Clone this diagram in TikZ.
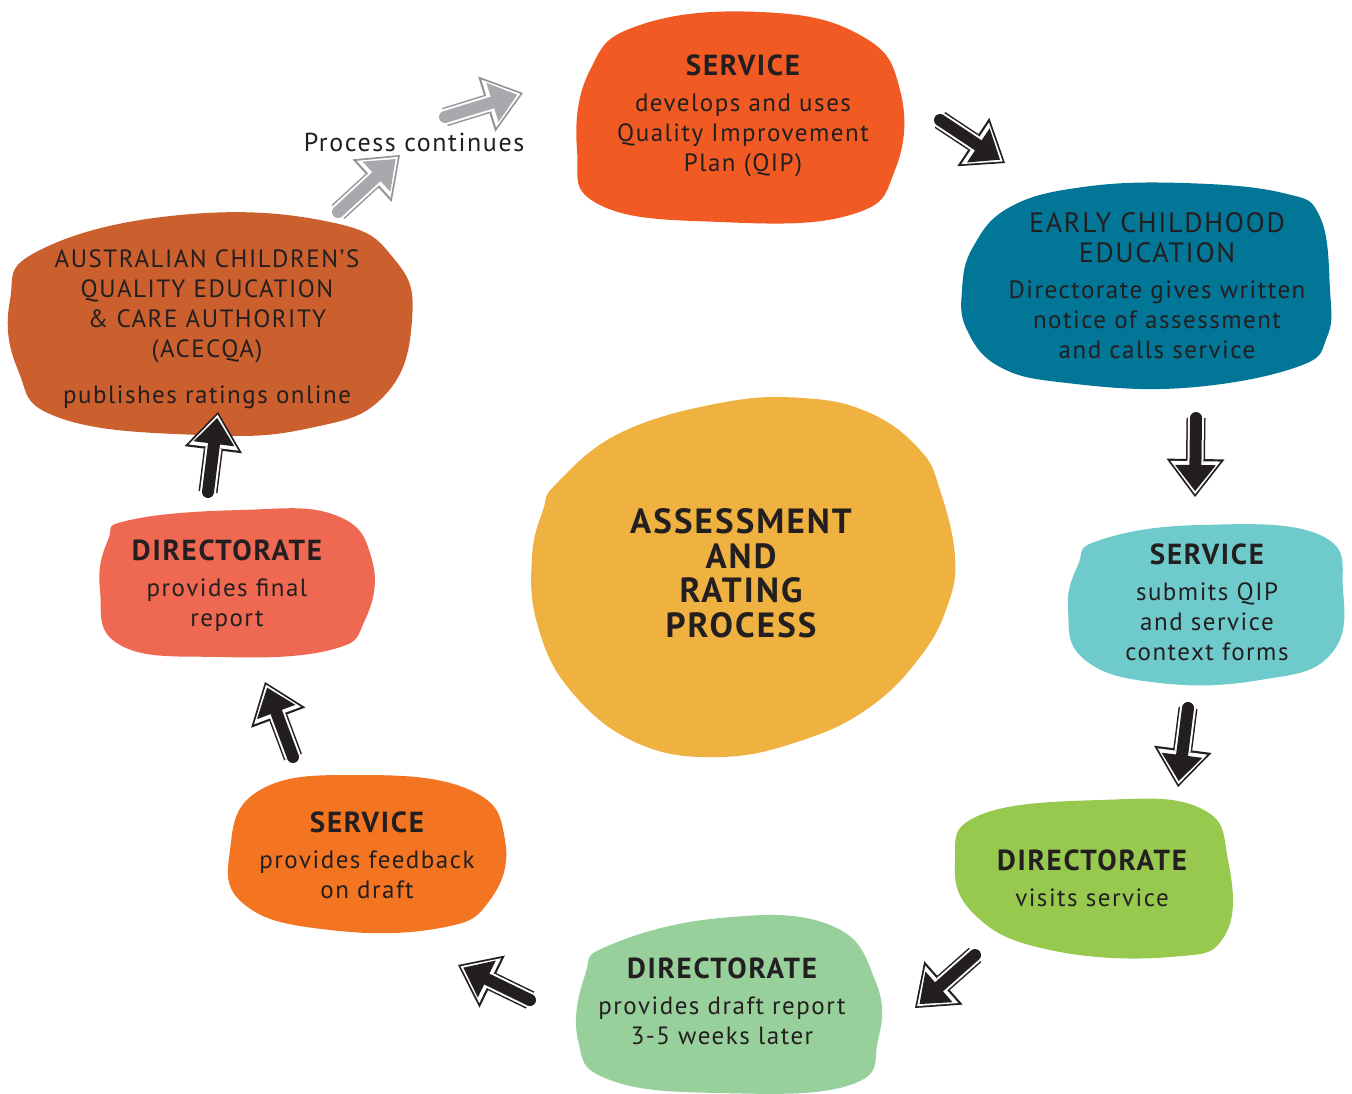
\documentclass[tikz,border=0pt]{standalone}
\usepackage{fontspec}
\setmainfont{PT Sans}[LetterSpace=6]
\usetikzlibrary{arrows.meta}

\definecolor{ink}{HTML}{231F20}
\definecolor{svcred}{HTML}{F15A22}
\definecolor{ecteal}{HTML}{027697}
\definecolor{subteal}{HTML}{6FCBCB}
\definecolor{visgreen}{HTML}{97C94F}
\definecolor{drfgreen}{HTML}{98D09C}
\definecolor{fbkorange}{HTML}{F37521}
\definecolor{finsalmon}{HTML}{EF6852}
\definecolor{acqrust}{HTML}{CB5F2D}
\definecolor{arpyellow}{HTML}{EFB240}
\definecolor{contgrey}{HTML}{A7A9AC}
\definecolor{contedge}{HTML}{939598}

\newcommand{\hdr}{\fontsize{14.5}{15}\selectfont\bfseries}
\newcommand{\ecehdr}{\fontsize{14}{16}\selectfont}

\tikzset{
  txt/.style={align=center, text=ink, font=\fontsize{12.5}{15}\selectfont},
  % fat outlined arrow: edge colour, white band, then the core
  fatarrow/.style n args={2}{line cap=round,
    preaction={draw=#2, line width=9.5pt, shorten >=0pt,
      -{Triangle[length=19pt,width=29pt,line width'=0pt]}},
    preaction={draw=white, line width=8pt, shorten >=1.4pt,
      -{Triangle[length=16.5pt,width=25pt,line width'=0pt]}},
    draw=#1, line width=6pt, shorten >=3pt,
    -{Triangle[length=13pt,width=20.5pt,line width'=0pt]}},
  flow/.style={fatarrow={ink}{ink}},
  cont/.style={fatarrow={contgrey}{contedge}},
}

\begin{document}
\begin{tikzpicture}[x=0.5pt, y=-0.5pt]
  \useasboundingbox (0,0) rectangle (1352,1093);

  % blobs
  \fill[svcred] plot[smooth cycle, tension=0.75] coordinates {(640,25) (760,12)
    (860,35) (900,90) (895,170) (850,215) (720,222) (600,205) (577,150) (590,70)};
  \fill[ecteal] plot[smooth cycle, tension=0.7] coordinates {(1010,207)
    (1083,187) (1183,183) (1283,193) (1320,217) (1330,290) (1327,337) (1297,367)
    (1183,388) (1067,383) (1000,367) (967,330) (962,290) (973,247)};
  \fill[subteal] plot[smooth cycle, tension=0.75] coordinates {(1100,540)
    (1200,525) (1320,535) (1343,590) (1330,655) (1260,680) (1160,683) (1085,660)
    (1068,610) (1078,565)};
  \fill[visgreen] plot[smooth cycle, tension=0.75] coordinates {(980,815)
    (1100,800) (1200,808) (1228,860) (1225,935) (1170,957) (1050,950) (975,915)
    (955,860)};
  \fill[drfgreen] plot[smooth cycle, tension=0.75] coordinates {(610,945)
    (720,918) (830,925) (875,980) (878,1040) (850,1085) (720,1093) (610,1080)
    (578,1040) (585,975)};
  \fill[fbkorange] plot[smooth cycle, tension=0.75] coordinates {(260,790)
    (360,775) (470,790) (505,840) (490,900) (440,928) (330,930) (245,905)
    (230,850)};
  \fill[finsalmon] plot[smooth cycle, tension=0.75] coordinates {(130,520)
    (240,510) (335,515) (372,560) (365,620) (330,650) (220,657) (120,645)
    (100,590) (108,540)};
  \fill[acqrust] plot[smooth cycle, tension=0.75] coordinates {(40,250)
    (180,215) (330,222) (395,260) (412,320) (385,395) (310,428) (200,435)
    (60,418) (18,370) (10,300)};
  \fill[arpyellow] plot[smooth cycle, tension=0.7] coordinates {(557,483)
    (620,433) (720,403) (803,398) (870,413) (920,450) (940,490) (955,557)
    (947,607) (920,657) (870,707) (803,740) (720,757) (637,743) (570,690)
    (537,623) (532,557) (543,510)};

  % texts
  \node[txt] (svc) at (743,116) {{\hdr SERVICE}\\[3pt]develops and uses\\
    Quality Improvement\\Plan (QIP)};
  \node[txt] (ece) at (1157,286) {{\ecehdr EARLY CHILDHOOD}\\{\ecehdr EDUCATION}\\[3pt]
    Directorate gives written\\notice of assessment\\and calls service};
  \node[txt] (sub) at (1207,602) {{\hdr SERVICE}\\[3pt]submits QIP\\
    and service\\context forms};
  \node[txt] (vis) at (1092,878) {{\hdr DIRECTORATE}\\[3pt]visits service};
  \node[txt] (drf) at (722,1001) {{\hdr DIRECTORATE}\\[3pt]provides draft report\\
    3-5 weeks later};
  \node[txt] (fbk) at (367,855) {{\hdr SERVICE}\\[3pt]provides feedback\\on draft};
  \node[txt] (fin) at (227,586) {{\hdr DIRECTORATE}\\[3pt]provides final\\report};
  \node[txt] (acq) at (207,329) {AUSTRALIAN CHILDREN’S\\QUALITY EDUCATION\\
    \& CARE AUTHORITY\\(ACECQA)\\[8pt]publishes ratings online};
  \node[txt, font=\fontsize{17.5}{17.25}\selectfont\bfseries] (arp) at (741,573)
    {ASSESSMENT\\AND\\RATING\\PROCESS};
  \node[txt, font=\fontsize{13}{15}\selectfont] (cont) at (414,142) {Process continues};

  % arrow ends
  \coordinate (svc-out) at (940,120);
  \coordinate (ece-in) at (1005,163);
  \coordinate (ece-out) at (1196,418);
  \coordinate (sub-in) at (1195,497);
  \coordinate (sub-out) at (1188,708);
  \coordinate (vis-in) at (1178,787);
  \coordinate (vis-out) at (975,955);
  \coordinate (drf-in) at (915,1008);
  \coordinate (drf-out) at (530,1000);
  \coordinate (fbk-in) at (458,965);
  \coordinate (fbk-out) at (293,757);
  \coordinate (fin-in) at (265,682);
  \coordinate (fin-out) at (208,492);
  \coordinate (acq-in) at (218,412);
  \coordinate (acq-out) at (338,212);
  \coordinate (cont-in) at (400,155);
  \coordinate (cont-out) at (445,117);
  \coordinate (svc-in) at (523,93);

  \draw[flow] (svc-out) -- (ece-in);
  \draw[flow] (ece-out) -- (sub-in);
  \draw[flow] (sub-out) -- (vis-in);
  \draw[flow] (vis-out) -- (drf-in);
  \draw[flow] (drf-out) -- (fbk-in);
  \draw[flow] (fbk-out) -- (fin-in);
  \draw[flow] (fin-out) -- (acq-in);
  \draw[cont] (acq-out) -- (cont-in);
  \draw[cont] (cont-out) -- (svc-in);
\end{tikzpicture}
\end{document}
